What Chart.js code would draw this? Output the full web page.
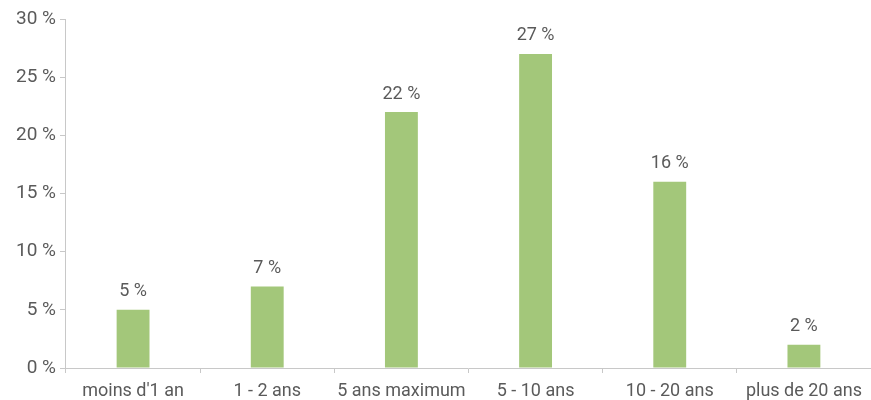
<!DOCTYPE html>
<html>
<head>
<meta charset="utf-8">
<script src="https://cdn.jsdelivr.net/npm/chart.js@4"></script>
<style>
  html, body { margin: 0; padding: 0; background: #fff; }
  #wrap { width: 871px; height: 400px; }
</style>
</head>
<body>
<div id="wrap"><canvas id="myChart"></canvas></div>
<script>
Chart.defaults.font.family = 'Roboto';

const categories = ["moins d'1 an", '1 - 2 ans', '5 ans maximum', '5 - 10 ans', '10 - 20 ans', 'plus de 20 ans'];
const shares = [5, 7, 22, 27, 16, 2];
const yTicks = [0, 5, 10, 15, 20, 25, 30];

const textColor = '#5a5a5a';
const axisColor = '#c8c8c8';

// writes "xx %" above every bar
const valueLabels = {
    id: 'valueLabels',
    afterDatasetsDraw(chart) {
        const ctx = chart.ctx;
        const meta = chart.getDatasetMeta(0);
        ctx.save();
        ctx.font = '18px Roboto';
        ctx.fillStyle = textColor;
        ctx.textAlign = 'center';
        ctx.textBaseline = 'bottom';
        meta.data.forEach((bar, i) => {
            ctx.fillText(shares[i] + ' %', bar.x, bar.y - 9);
        });
        ctx.restore();
    }
};

new Chart(document.getElementById('myChart'), {
    type: 'bar',
    data: {
        labels: categories,
        datasets: [{
            data: shares,
            backgroundColor: '#a3c77a',
            categoryPercentage: 1,
            barPercentage: 0.245
        }]
    },
    options: {
        responsive: true,
        maintainAspectRatio: false,
        animation: false,
        layout: { padding: { top: 19, right: 0, left: 12, bottom: 0 } },
        plugins: {
            legend: { display: false },
            tooltip: { enabled: false }
        },
        scales: {
            x: {
                afterFit: axis => { axis.height = 32; },
                border: { color: axisColor, width: 1 },
                grid: { offset: true, drawOnChartArea: false, tickLength: 5, color: axisColor },
                ticks: { color: textColor, font: { size: 18 }, padding: 8, maxRotation: 0 }
            },
            y: {
                min: 0,
                max: 30,
                afterBuildTicks: axis => { axis.ticks = yTicks.map(v => ({ value: v })); },
                border: { color: axisColor, width: 1 },
                grid: { drawOnChartArea: false, tickLength: 6, color: axisColor },
                ticks: {
                    color: textColor,
                    font: { size: 19 },
                    padding: 4,
                    callback: v => v + ' %'
                }
            }
        }
    },
    plugins: [valueLabels]
});
</script>
</body>
</html>
